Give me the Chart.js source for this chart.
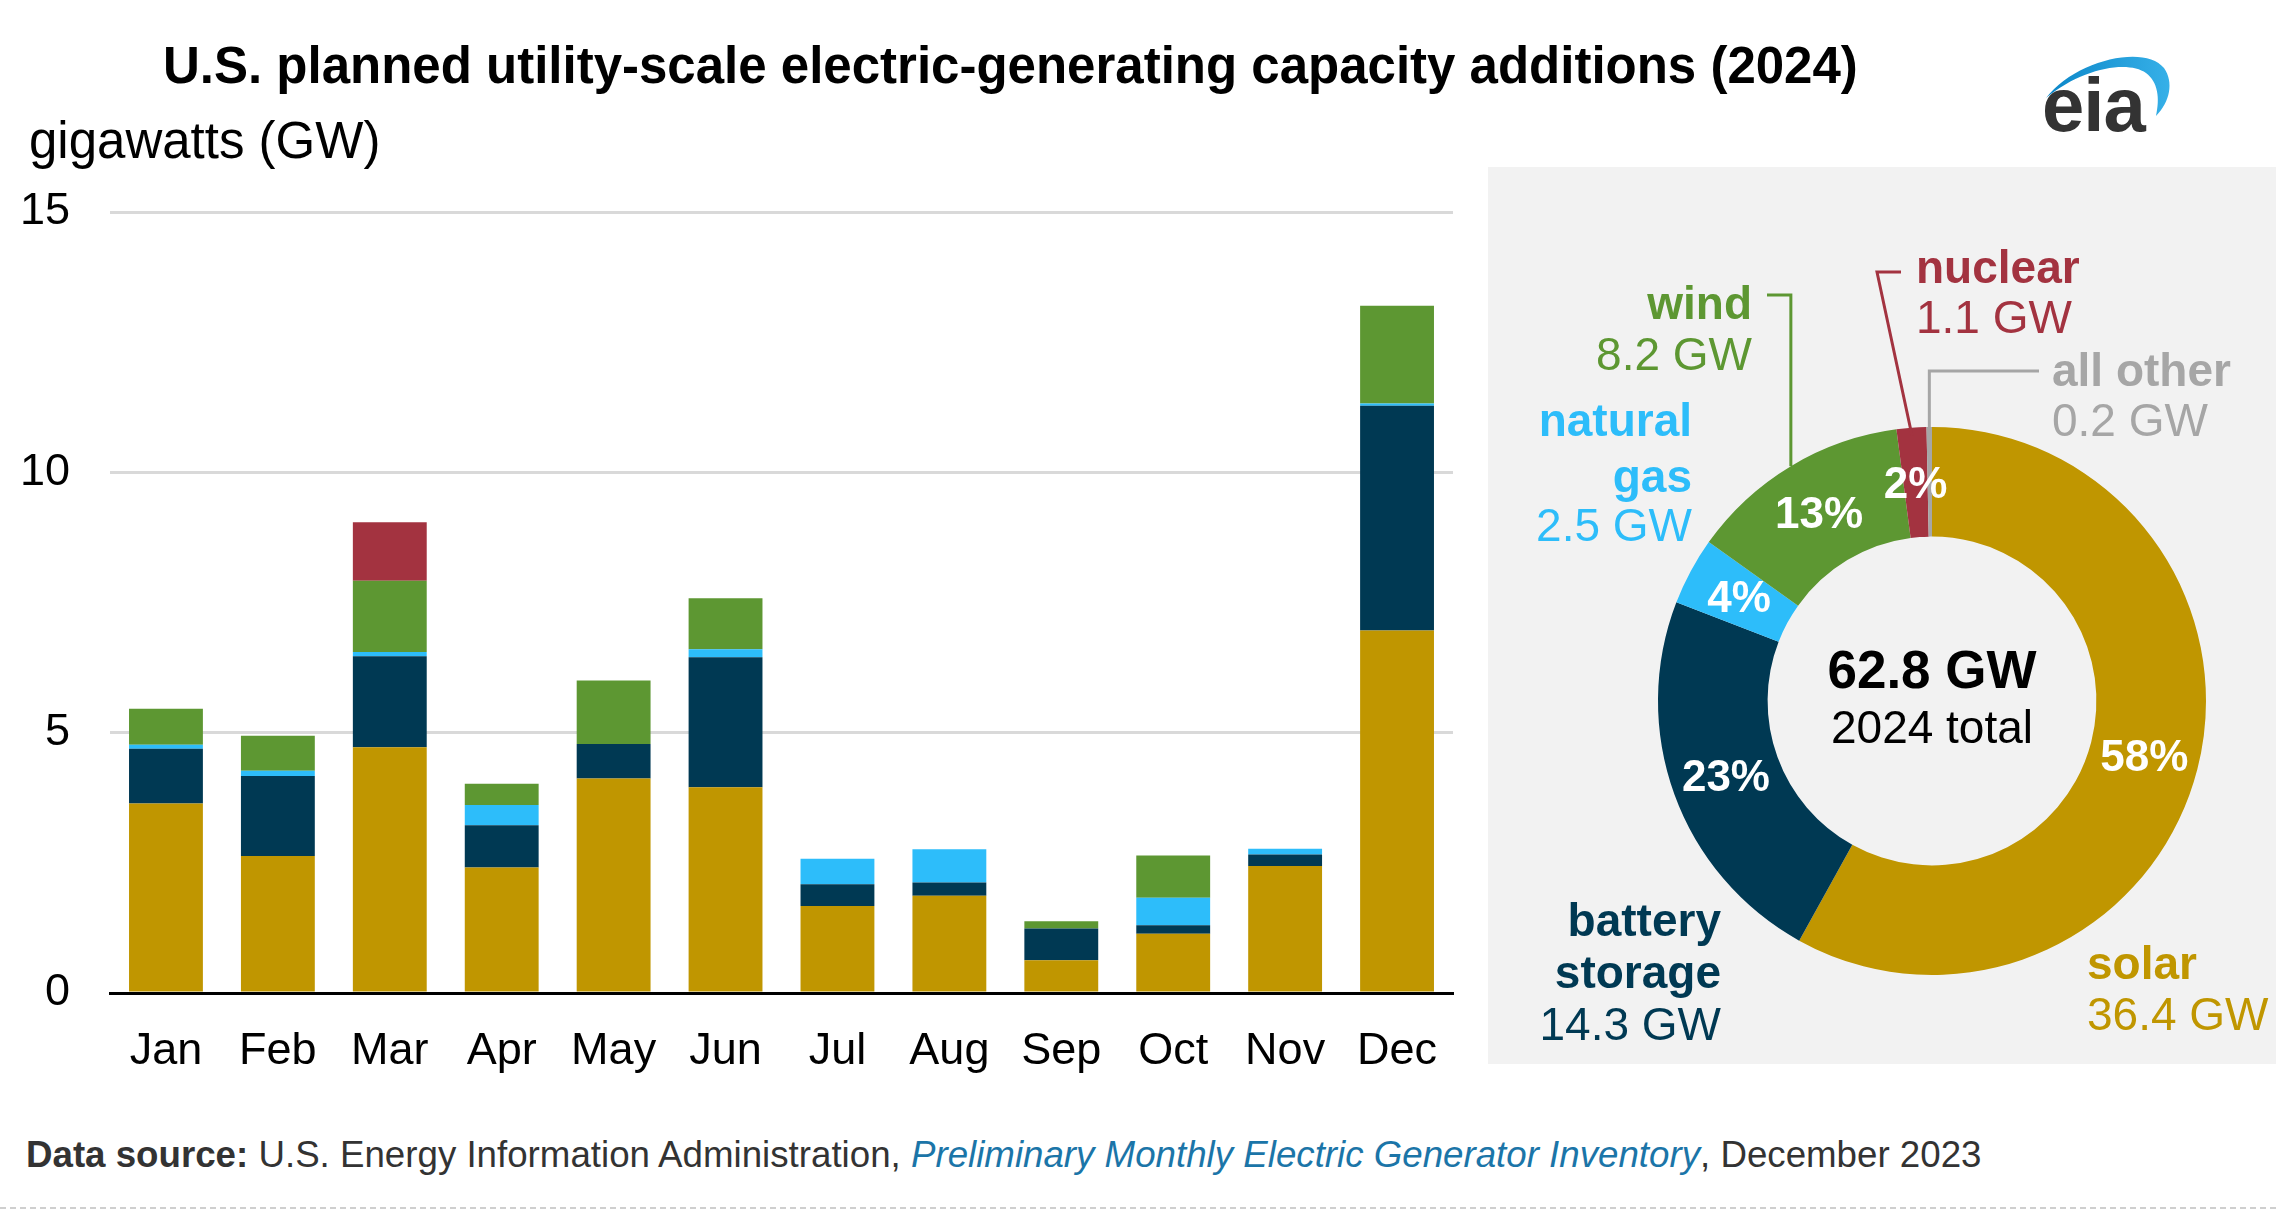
<!DOCTYPE html>
<html>
<head>
<meta charset="utf-8">
<script src="https://cdn.jsdelivr.net/npm/chart.js@4.4.1/dist/chart.umd.min.js"></script>
<style>
  html, body { margin: 0; padding: 0; background: #fff; }
  body { width: 2276px; height: 1232px; position: relative; overflow: hidden;
         font-family: "Liberation Sans", Arial, sans-serif; }
  .abs { position: absolute; white-space: nowrap; }
  #title { left: 163px; top: 36px; font-size: 51px; line-height: 60px; font-weight: bold; color: #000; }
  #yunit { left: 29px; top: 112px; font-size: 51px; line-height: 58px; color: #000; }
  #barCanvas { left: 0; top: 0; }
  #donutCanvas { left: 1488px; top: 167px; background: #f2f2f2; }
  #footer { left: 26px; top: 1134px; font-size: 36.7px; line-height: 42px; color: #333; }
  #footer a { color: #1b75a8; font-style: italic; text-decoration: none; }
  #dash { left: 0; top: 1207px; width: 2276px; border-top: 2px dashed #cfcfcf; }
  #logo { left: 2042px; top: 67px; font-size: 76px; line-height: 76px; font-weight: bold; color: #333; letter-spacing: -1px; }
  #swoosh { left: 2030px; top: 40px; }
</style>
</head>
<body>
<div id="title" class="abs">U.S. planned utility-scale electric-generating capacity additions (2024)</div>
<div id="yunit" class="abs">gigawatts (GW)</div>
<canvas id="barCanvas" class="abs" width="1480" height="1100"></canvas>
<canvas id="donutCanvas" class="abs" width="788" height="897"></canvas>
<svg id="swoosh" class="abs" width="150" height="90" viewBox="0 0 150 90">
  <defs>
    <linearGradient id="g" x1="0" x2="1" y1="0" y2="0">
      <stop offset="0" stop-color="#0b86c8"/>
      <stop offset="1" stop-color="#36b0e8"/>
    </linearGradient>
  </defs>
  <path d="M16,58 C45,20 115,4 134,28 C144,42 140,62 126,76 C130,58 128,42 116,33 C98,20 52,28 16,58 Z" fill="url(#g)"/>
</svg>
<div id="logo" class="abs">eia</div>
<div id="footer" class="abs"><b>Data source:</b> U.S. Energy Information Administration, <a>Preliminary Monthly Electric Generator Inventory</a>, December 2023</div>
<div id="dash" class="abs"></div>

<script>
const FONT = '"Liberation Sans", Arial, sans-serif';

// monthly planned additions, GW
const months = ['Jan', 'Feb', 'Mar', 'Apr', 'May', 'Jun', 'Jul', 'Aug', 'Sep', 'Oct', 'Nov', 'Dec'];
const solarGW   = [3.64, 2.63, 4.72, 2.41, 4.12, 3.95, 1.67, 1.87, 0.63, 1.14, 2.44, 6.96];
const batteryGW = [1.05, 1.54, 1.75, 0.81, 0.66, 2.50, 0.42, 0.25, 0.61, 0.16, 0.22, 4.32];
const gasGW     = [0.08, 0.10, 0.08, 0.39, 0.00, 0.15, 0.49, 0.64, 0.00, 0.53, 0.11, 0.04];
const windGW    = [0.69, 0.67, 1.37, 0.41, 1.22, 0.98, 0.00, 0.00, 0.14, 0.81, 0.00, 1.88];
const nuclearGW = [0.00, 0.00, 1.12, 0.00, 0.00, 0.00, 0.00, 0.00, 0.00, 0.00, 0.00, 0.00];
const yTicks = [0, 5, 10, 15];

// 2024 totals by technology, GW
const donutNames = ['solar', 'battery storage', 'natural gas', 'wind', 'nuclear', 'all other'];
const donutGW = [36.4, 14.3, 2.5, 8.2, 1.1, 0.2];
const donutTotal = '62.8 GW';
const donutSub = '2024 total';

const COLORS = {
  solar: '#c09600',
  battery: '#003953',
  gas: '#2dbdfa',
  wind: '#5d9732',
  nuclear: '#a33340',
  other: '#a6a6a6'
};

Chart.defaults.font.family = FONT;
Chart.defaults.color = '#000';

const barChart = new Chart(document.getElementById('barCanvas'), {
  type: 'bar',
  data: {
    labels: months,
    datasets: [
      { label: 'solar', data: solarGW, backgroundColor: COLORS.solar },
      { label: 'battery storage', data: batteryGW, backgroundColor: COLORS.battery },
      { label: 'natural gas', data: gasGW, backgroundColor: COLORS.gas },
      { label: 'wind', data: windGW, backgroundColor: COLORS.wind },
      { label: 'nuclear', data: nuclearGW, backgroundColor: COLORS.nuclear }
    ]
  },
  options: {
    responsive: false,
    animation: false,
    devicePixelRatio: 1,
    categoryPercentage: 1,
    barPercentage: 0.66,
    layout: { padding: { left: 0, right: 27, top: 212, bottom: 0 } },
    plugins: { legend: { display: false }, tooltip: { enabled: false } },
    scales: {
      x: {
        stacked: true,
        grid: { display: false, drawTicks: false },
        border: { display: true, color: '#000', width: 3 },
        ticks: { font: { size: 45 }, color: '#000', padding: 32 },
        afterFit(scale) { scale.height = 107; }
      },
      y: {
        stacked: true,
        min: 0,
        max: 15,
        afterBuildTicks(scale) { scale.ticks = yTicks.map(v => ({ value: v })); },
        grid: {
          drawTicks: false,
          lineWidth: 3,
          color: ctx => (ctx.tick && ctx.tick.value === 0 ? '#000' : '#d9d9d9')
        },
        border: { display: false },
        ticks: { font: { size: 45 }, color: '#000', padding: 40 },
        afterFit(scale) { scale.width = 110; }
      }
    }
  }
});

// labels, leader lines and percentages around the doughnut
const donutText = {
  id: 'donutText',
  afterDatasetsDraw(chart) {
    const ctx = chart.ctx;
    const arcs = chart.getDatasetMeta(0).data;
    const total = donutGW.reduce((a, b) => a + b, 0);
    const gw = i => donutGW[i].toFixed(1) + ' GW';
    const edge = (i, inset) => {
      const a = arcs[i];
      const m = (a.startAngle + a.endAngle) / 2;
      const r = a.outerRadius - inset;
      return { x: a.x + Math.cos(m) * r, y: a.y + Math.sin(m) * r };
    };
    ctx.save();

    // percent in each slice
    ctx.fillStyle = '#fff';
    ctx.font = 'bold 44px ' + FONT;
    ctx.textAlign = 'center';
    ctx.textBaseline = 'middle';
    arcs.forEach((arc, i) => {
      const pct = Math.round(donutGW[i] / total * 100);
      if (pct < 1) return;
      const p = arc.getCenterPoint();
      ctx.fillText(pct + '%', p.x, p.y + 3);
    });

    // centre total
    const c = arcs[0];
    ctx.fillStyle = '#000';
    ctx.font = 'bold 53px ' + FONT;
    ctx.fillText(donutTotal, c.x, c.y - 28);
    ctx.font = '46px ' + FONT;
    ctx.fillText(donutSub, c.x, c.y + 29);

    // leader lines
    ctx.lineWidth = 3;
    let p = edge(3, 0);
    ctx.strokeStyle = COLORS.wind;
    ctx.beginPath(); ctx.moveTo(p.x, p.y); ctx.lineTo(p.x, 128); ctx.lineTo(279, 128); ctx.stroke();
    p = edge(4, 8);
    ctx.strokeStyle = COLORS.nuclear;
    ctx.beginPath(); ctx.moveTo(p.x, p.y); ctx.lineTo(389, 105); ctx.lineTo(413, 105); ctx.stroke();
    p = edge(5, 8);
    ctx.strokeStyle = COLORS.other;
    ctx.beginPath(); ctx.moveTo(p.x, p.y); ctx.lineTo(p.x, 204); ctx.lineTo(551, 204); ctx.stroke();

    // category labels
    const label = (lines, x, ys, align, color) => {
      ctx.fillStyle = color;
      ctx.textAlign = align;
      lines.forEach((t, k) => {
        ctx.font = (k < lines.length - 1 ? 'bold ' : '') + '46px ' + FONT;
        ctx.fillText(t, x, ys[k] + 4);
      });
    };
    label(['wind', gw(3)], 264, [135, 186], 'right', COLORS.wind);
    label(['nuclear', gw(4)], 428, [99, 149], 'left', COLORS.nuclear);
    label(['all other', gw(5)], 564, [202, 252], 'left', COLORS.other);
    label(['natural', 'gas', gw(2)], 204, [252, 308, 357], 'right', COLORS.gas);
    label(['battery', 'storage', gw(1)], 233, [752, 804, 856], 'right', COLORS.battery);
    label(['solar', gw(0)], 599, [795, 846], 'left', COLORS.solar);

    ctx.restore();
  }
};

const donutChart = new Chart(document.getElementById('donutCanvas'), {
  type: 'doughnut',
  data: {
    labels: donutNames,
    datasets: [{
      data: donutGW,
      backgroundColor: [COLORS.solar, COLORS.battery, COLORS.gas, COLORS.wind, COLORS.nuclear, COLORS.other],
      borderWidth: 0
    }]
  },
  options: {
    responsive: false,
    animation: false,
    devicePixelRatio: 1,
    cutout: '60%',
    layout: { padding: { left: 170, right: 70, top: 260, bottom: 89 } },
    plugins: { legend: { display: false }, tooltip: { enabled: false } }
  },
  plugins: [donutText]
});
</script>
</body>
</html>
